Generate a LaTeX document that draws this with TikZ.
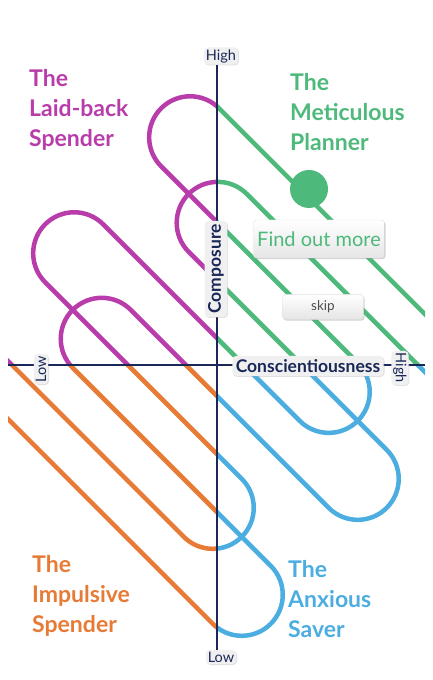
\documentclass[tikz,border=0pt]{standalone}
\usepackage{fontspec}
\setmainfont{Lato}
\usepackage{tikz}
\usetikzlibrary{positioning,shadows}
\definecolor{laidback}{HTML}{B83DAA}
\definecolor{planner}{HTML}{4DB97A}
\definecolor{impulsive}{HTML}{E77A35}
\definecolor{saver}{HTML}{4CADE0}
\definecolor{navy}{HTML}{1A2858}
\tikzstyle{track}=[line width=4.5pt]
\tikzstyle{axis}=[draw=navy,line width=1.8pt]
\tikzstyle{title}=[font=\bfseries\fontsize{23}{30}\selectfont,align=left,anchor=west,inner sep=0pt]
\tikzstyle{tag}=[fill=gray!12,rounded corners=4pt,text=navy,inner sep=2pt,drop shadow={opacity=0.25,shadow xshift=0.8pt,shadow yshift=-0.8pt},font=\fontsize{14.5}{14.5}\selectfont]
\tikzstyle{axislabel}=[tag,font=\bfseries\fontsize{17.5}{17.5}\selectfont,inner sep=3.5pt]
\tikzstyle{button}=[rounded corners=3pt,top color=white,bottom color=gray!20,draw=gray!25,drop shadow={opacity=0.35,shadow xshift=1pt,shadow yshift=-1.2pt}]

\begin{document}
\begin{tikzpicture}[x=1pt,y=1pt]
  \useasboundingbox (0,0) rectangle (433,680);
  \coordinate (origin) at (217,315);
  \coordinate (west end) at (8,315);
  \coordinate (east end) at (425,315);

  % two paperclip tracks, one colour per quadrant
  \foreach \xa/\ya/\xb/\yb/\clr in {8/315/217/680/laidback,217/315/425/680/planner,8/0/217/315/impulsive,217/0/425/315/saver}{
    \begin{scope}
      \clip (\xa,\ya) rectangle (\xb,\yb);
      \begin{scope}[shift={(origin)},rotate=-45]
        \draw[track,\clr] (400,183) -- (-180,183) arc[start angle=90,end angle=270,radius=41pt]
          -- (98,101) arc[start angle=90,end angle=-90,radius=41pt]
          -- (-180,19) arc[start angle=90,end angle=270,radius=41pt]
          -- (98,-63) arc[start angle=90,end angle=-90,radius=41pt]
          -- (-400,-145);
        \draw[track,\clr] (400,142) -- (-100,142) arc[start angle=90,end angle=270,radius=41pt]
          -- (180,60) arc[start angle=90,end angle=-90,radius=41pt]
          -- (-100,-22) arc[start angle=90,end angle=270,radius=41pt]
          -- (180,-104) arc[start angle=90,end angle=-90,radius=41pt]
          -- (-400,-186);
      \end{scope}
    \end{scope}
  }

  \node[circle,fill=planner,minimum size=38pt,inner sep=0pt] (dot) at (309,491) {};

  % axes
  \node[tag] (high) at (221,624) {High};
  \node[tag] (low) at (221,23) {Low};
  \draw[axis] (high.south -| origin) -- (low.north -| origin);
  \draw[axis] (west end) -- (east end);
  \node[tag,rotate=90] (left low) at (41,311) {Low};
  \node[tag,rotate=-90] (right high) at (400,312) {High};
  \node[axislabel,rotate=90] (composure) at (216,411) {Composure};
  \node[axislabel] (conscient) at (308,314) {Conscientiousness};

  \node[button,minimum width=131pt,minimum height=38pt,text=planner,font=\fontsize{20}{20}\selectfont] (more) at (319,441) {Find out more};
  \node[button,minimum width=81pt,minimum height=25pt,text=black!70,font=\fontsize{13.5}{13.5}\selectfont] (skip) [below=36pt of more,xshift=4pt] {skip};

  % quadrant names
  \node[title,text=laidback] (tl name) at (29,570) {The\\Laid-back\\Spender};
  \node[title,text=planner] (tr name) at (290,568) {The\\Meticulous\\Planner};
  \node[title,text=impulsive] (bl name) at (32,84) {The\\Impulsive\\Spender};
  \node[title,text=saver] (br name) at (288,81) {The\\Anxious\\Saver};
\end{tikzpicture}
\end{document}
